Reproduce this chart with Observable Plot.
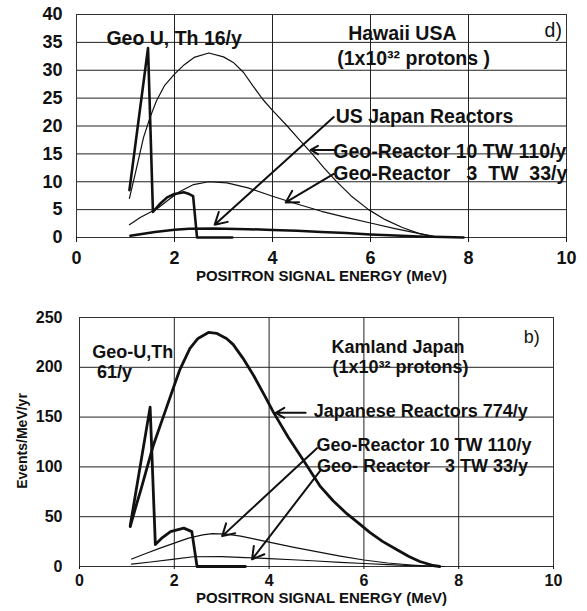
<!DOCTYPE html>
<html>
<head>
<meta charset="utf-8">
<script src="https://cdn.jsdelivr.net/npm/d3@7"></script>
<script src="https://cdn.jsdelivr.net/npm/@observablehq/plot@0.6"></script>
<style>
  html, body { margin: 0; padding: 0; background: #fff; }
  #top, #bottom { position: absolute; left: 0; }
  #top { top: 0; }
  #bottom { top: 290px; }
  g[aria-label="x-title"] text { letter-spacing: 1.6px; }
</style>
</head>
<body>
<div id="top"></div>
<div id="bottom"></div>
<script>
// ---------- Data (energy MeV, events/MeV/yr) ----------
const xTicks = [0, 2, 4, 6, 8, 10];
const hawaiiYTicks = [0, 5, 10, 15, 20, 25, 30, 35, 40];
const kamlandYTicks = [0, 50, 100, 150, 200, 250];
const xTitle = "POSITRON SIGNAL ENERGY (MeV)";
const yTitle = [[-1.2, 126, "Events/MeV/yr"]];

// Hawaii (panel d)
const hawaiiGeoUTh = [[1.08,8.5],[1.46,34],[1.56,4.6],[1.7,6.0],[1.85,7.2],[2.0,7.8],[2.19,8.1],[2.3,7.8],[2.38,7.4],[2.46,0],[3.18,0]];
const hawaiiUSJapanReactors = [[1.1,0.3],[1.3,0.6],[1.6,1.0],[2.0,1.4],[2.3,1.55],[2.8,1.6],[3.5,1.5],[4.0,1.35],[4.5,1.2],[5.0,1.0],[5.5,0.8],[6.0,0.55],[6.5,0.35],[7.0,0.2],[7.5,0.08],[7.9,0]];
const hawaiiGeoReactor10 = [[1.08,7],[1.2,11.5],[1.37,18],[1.5,21.5],[1.63,24.5],[1.8,27.3],[2.0,29.3],[2.2,31],[2.4,32.3],[2.7,33.1],[3.0,32.4],[3.2,31.4],[3.41,29.6],[3.6,27.2],[3.8,24.8],[4.0,22.8],[4.3,20],[4.55,17.5],[4.81,15],[5.05,12.5],[5.29,10.2],[5.6,7.5],[5.96,5],[6.3,3.2],[6.65,1.8],[7.0,0.7],[7.3,0.1],[7.4,0]];
const hawaiiGeoReactor3 = [[1.08,2.3],[1.3,3.6],[1.65,5.2],[1.9,6.9],[2.1,8.2],[2.39,9.5],[2.7,10],[3.07,9.8],[3.5,8.9],[4.0,7.4],[4.5,6.0],[5.0,4.7],[5.5,3.6],[6.0,2.6],[6.5,1.6],[7.0,0.7],[7.3,0.2],[7.45,0]];
const hawaiiLabelsLeft = [
  [0.61, 35.6, "Geo U, Th 16/y"],
  [5.29, 21.6, "US Japan Reactors"],
  [5.24, 15.4, "Geo-Reactor 10 TW 110/y"],
  [5.24, 11.5, "Geo-Reactor\u00a0\u00a0\u00a03\u00a0\u00a0TW\u00a0\u00a033/y"]
];
const hawaiiLabelsCenter = [
  [6.65, 36.5, "Hawaii USA"],
  [6.88, 32.1, "(1x10\u00b3\u00b2 protons )"]
];
const hawaiiPanel = [[9.73, 37.1, "d)"]];
const hawaiiArrows = [
  [5.25, 21.6, 2.82, 2.3],
  [5.29, 15.7, 4.78, 15.7],
  [5.25, 11.4, 4.27, 6.3]
];

// Kamland (panel b)
const kamlandGeoUTh = [[1.07,41],[1.49,160],[1.6,22],[1.75,29],[1.92,35],[2.2,38.5],[2.37,35],[2.48,0],[3.5,0]];
const kamlandJapaneseReactors = [[1.07,40],[1.2,62],[1.3,78],[1.4,95],[1.56,122],[1.78,152],[2.0,182],[2.12,198],[2.33,219],[2.5,229],[2.72,235],[2.9,234],[3.1,229],[3.24,223],[3.45,209],[3.67,192],[3.9,172],[4.09,155],[4.4,130],[4.72,107],[5.07,81],[5.35,66],[5.64,53],[5.9,43],[6.13,34],[6.4,25],[6.69,17],[6.95,10],[7.18,5],[7.46,1],[7.6,0]];
const kamlandGeoReactor10 = [[1.1,7.5],[1.4,13],[1.7,18.5],[2.0,23.5],[2.3,28.5],[2.6,31.8],[2.8,33],[3.1,32.5],[3.4,30.5],[3.7,27.5],[4.0,24.5],[4.5,19.5],[5.0,15],[5.5,10.5],[6.0,6.5],[6.5,3.5],[7.0,1.5],[7.4,0.3],[7.6,0]];
const kamlandGeoReactor3 = [[1.1,2.3],[1.5,4.5],[2.0,7.5],[2.4,9.8],[3.0,10],[3.5,9.0],[4.0,8.0],[4.5,6.8],[5.0,5.5],[5.5,4.2],[6.0,3],[6.5,1.8],[7.0,0.8],[7.5,0.1],[7.7,0]];
const kamlandLabelsLeft = [
  [0.27, 215.5, "Geo-U,Th"],
  [0.37, 195, "61/y"],
  [4.94, 155.5, "Japanese Reactors 774/y"],
  [5.0, 121.5, "Geo-Reactor 10 TW 110/y"],
  [5.01, 100.5, "Geo- Reactor\u00a0\u00a0\u00a03 TW 33/y"]
];
const kamlandLabelsCenter = [
  [6.72, 220.5, "Kamland Japan"],
  [6.77, 200.5, "(1x10\u00b3\u00b2 protons)"]
];
const kamlandPanel = [[9.54, 230.5, "b)"]];
const kamlandArrows = [
  [4.77, 154.3, 4.14, 154.3],
  [5.01, 118.8, 3.01, 30.5],
  [5.08, 96.2, 3.64, 7.2]
];

// ---------- Drawing ----------
const FONT = "'Liberation Sans', Arial, sans-serif";
const px = d => d[0], py = d => d[1];

function lineMarks(series) {
  return series.map(([data, w]) => Plot.line(data, {x: px, y: py, stroke: "#111", strokeWidth: w, curve: "linear"}));
}

function panel({yDomain, yTicks, height, margins, tickFont, labelFont, titleFont, xTickSize, xTickPad, yTickPad, series, left, center, tag, arrows, xTitleDy, xTitleDx, yLabel}) {
  const marks = [
    Plot.gridX(xTicks, {stroke: "#222", strokeOpacity: 1, strokeWidth: 1}),
    Plot.gridY(yTicks, {stroke: "#222", strokeOpacity: 1, strokeWidth: 1}),
    Plot.frame({stroke: "#333", strokeWidth: 1}),
    Plot.axisX({ticks: xTicks, tickSize: xTickSize, tickPadding: xTickPad, fontSize: tickFont, fontWeight: "bold", label: null}),
    Plot.axisY({ticks: yTicks, tickSize: 0, tickPadding: yTickPad, fontSize: tickFont, fontWeight: "bold", label: null}),
    ...lineMarks(series),
    Plot.arrow(arrows, {x1: d => d[0], y1: d => d[1], x2: d => d[2], y2: d => d[3], stroke: "#111", strokeWidth: 2, headLength: 10, bend: 0}),
    Plot.text(left, {x: px, y: py, text: d => d[2], textAnchor: "start", fontSize: labelFont, fontWeight: "bold", fill: "#111"}),
    Plot.text(center, {x: px, y: py, text: d => d[2], textAnchor: "middle", fontSize: labelFont, fontWeight: "bold", fill: "#111"}),
    Plot.text(tag, {x: px, y: py, text: d => d[2], textAnchor: "middle", fontSize: labelFont, fontWeight: "normal", fill: "#111"}),
    Plot.text([xTitle], {frameAnchor: "bottom", text: d => d, dy: xTitleDy, dx: xTitleDx, fontSize: titleFont, fontWeight: "bold", fill: "#111", ariaLabel: "x-title"})
  ];
  if (yLabel) {
    marks.push(Plot.text(yLabel, {x: px, y: py, text: d => d[2], rotate: -90, fontSize: 14, fontWeight: "bold", fill: "#111"}));
  }
  return Plot.plot({
    width: 587,
    height,
    ...margins,
    style: {fontFamily: FONT, background: "#fff", color: "#111"},
    x: {domain: [0, 10]},
    y: {domain: yDomain},
    marks
  });
}

document.getElementById("top").append(panel({
  yDomain: [0, 40], yTicks: hawaiiYTicks, height: 290,
  margins: {marginTop: 14, marginBottom: 53, marginLeft: 76, marginRight: 21},
  tickFont: 18, labelFont: 19.5, titleFont: 15, xTickSize: 5, xTickPad: 9, yTickPad: 14,
  series: [[hawaiiGeoReactor10, 1.2], [hawaiiGeoReactor3, 1.2], [hawaiiUSJapanReactors, 2.5], [hawaiiGeoUTh, 2.6]],
  left: hawaiiLabelsLeft, center: hawaiiLabelsCenter, tag: hawaiiPanel, arrows: hawaiiArrows,
  xTitleDy: 43, xTitleDx: 0, yLabel: null
}));

document.getElementById("bottom").append(panel({
  yDomain: [0, 250], yTicks: kamlandYTicks, height: 321,
  margins: {marginTop: 27, marginBottom: 45, marginLeft: 79, marginRight: 34},
  tickFont: 16, labelFont: 18, titleFont: 15, xTickSize: 3, xTickPad: 5, yTickPad: 17,
  series: [[kamlandGeoReactor10, 1.2], [kamlandGeoReactor3, 1.2], [kamlandJapaneseReactors, 2.8], [kamlandGeoUTh, 2.8]],
  left: kamlandLabelsLeft, center: kamlandLabelsCenter, tag: kamlandPanel, arrows: kamlandArrows,
  xTitleDy: 36, xTitleDx: 5, yLabel: yTitle
}));
</script>
</body>
</html>
